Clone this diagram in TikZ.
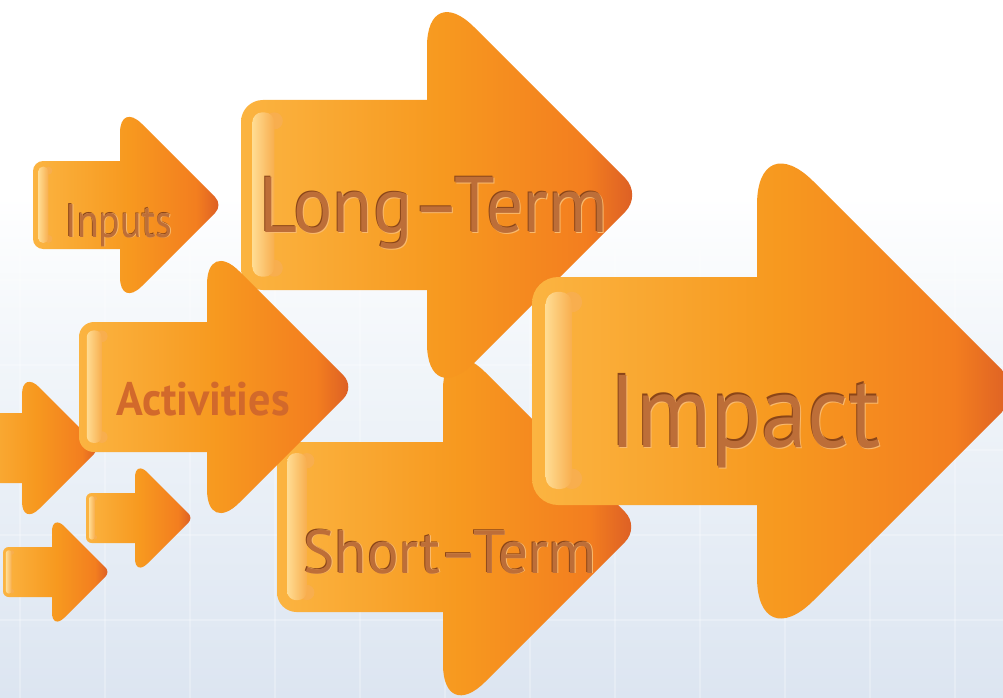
\documentclass[tikz,border=0pt]{standalone}
\usepackage{fontspec}
\setmainfont{PT Sans}

\definecolor{arrowlight}{HTML}{FBB441}
\definecolor{arroworange}{HTML}{F7991F}
\definecolor{arrowdeep}{HTML}{F37E1F}
\definecolor{arrowdark}{HTML}{D95A26}
\definecolor{bracketpale}{HTML}{FFDC93}
\definecolor{bracketedge}{HTML}{F8AE4E}
\definecolor{carvefill}{HTML}{BD6E38}
\definecolor{carvedark}{HTML}{8A4518}
\definecolor{carvelight}{HTML}{F9BA6E}
\definecolor{activitytext}{HTML}{D2692B}
\definecolor{bgblue}{HTML}{DCE5F1}
\definecolor{bgmid}{HTML}{F2F6FA}

\pgfdeclarehorizontalshading{arrowfill}{100bp}{color(0bp)=(arrowlight); color(25bp)=(arrowlight); color(50bp)=(arroworange); color(68bp)=(arrowdeep); color(75bp)=(arrowdark); color(100bp)=(arrowdark)}
\pgfdeclarehorizontalshading{bracketfill}{100bp}{color(0bp)=(bracketpale); color(25bp)=(bracketpale); color(75bp)=(bracketedge); color(100bp)=(bracketedge)}
\pgfdeclareverticalshading{bgshade}{100bp}{color(0bp)=(bgblue); color(25bp)=(bgblue); color(50bp)=(bgmid); color(61bp)=(white); color(100bp)=(white)}

% arrow: left, mid y, body half height, head base x, head half height
\newcommand\orangearrow[5]{%
  \pgfmathsetmacro\rb{0.23*#3}%
  \pgfmathsetmacro\rh{0.7*#3}%
  \pgfmathsetmacro\rt{0.25*#3}%
  \shade[arrow body] (#1,#2) [rounded corners=\rb pt] -- (#1,#2-#3) [sharp corners] -- (#4,#2-#3)
    [rounded corners=\rh pt] -- (#4,#2-#5) [rounded corners=\rt pt] -- (#4+#5,#2)
    [rounded corners=\rh pt] -- (#4,#2+#5) [sharp corners] -- (#4,#2+#3)
    [rounded corners=\rb pt] -- (#1,#2+#3) -- cycle;
}
% pale bracket at the left end of the body
\newcommand\arrowgloss[3]{%
  \pgfmathsetmacro\glx{#1+0.12*#3}%
  \pgfmathsetmacro\glw{0.23*#3}%
  \pgfmathsetmacro\gly{#2-0.87*#3}%
  \pgfmathsetmacro\glb{#2+0.86*#3}%
  \pgfmathsetmacro\glr{0.09*#3}%
  \pgfmathsetmacro\glq{0.45*\glw}%
  \fill[bracketedge] (\glx+\glw,\gly+\glr) circle (\glr) (\glx+\glw,\glb-\glr) circle (\glr);
  \shade[gloss, rounded corners=\glq pt] (\glx,\gly) rectangle (\glx+\glw,\glb);
}
\newcommand\carved[2]{%
  \makebox[0pt][l]{\kern-#1\raisebox{#1}{\color{carvedark}#2}}%
  \makebox[0pt][l]{\kern#1\raisebox{-#1}{\color{carvelight}#2}}%
  {\color{carvefill}#2}}

\begin{document}
\begin{tikzpicture}[x=1pt,y=-1pt,
  arrow body/.style={shading=arrowfill},
  gloss/.style={shading=bracketfill},
  carved label/.style={anchor=base,inner sep=0pt},
  flat label/.style={anchor=base,inner sep=0pt,text=activitytext},
  gridline/.style={white,opacity=.25,line width=2pt}]

\useasboundingbox (0,0) rectangle (1003,698);
\clip (0,0) rectangle (1003,698);
\shade[shading=bgshade] (0,0) rectangle (1003,698);
\foreach \gx in {20,105,...,1003} \draw[gridline] (\gx,250) -- (\gx,698);
\foreach \gy in {280,365,...,698} \draw[gridline] (0,\gy) -- (1003,\gy);

% back to front
\orangearrow{277}{527}{85}{443}{197}
\arrowgloss{277}{527}{85}
\node[carved label, xscale=0.97, font=\fontsize{61}{64}\selectfont] (shortterm) at (450,573) {\carved{0.9pt}{Short--Term}};

\orangearrow{241}{195}{95}{427}{215}
\arrowgloss{241}{195}{95}
\node[carved label, xscale=0.93, font=\fontsize{79}{82}\selectfont] (longterm) at (434,232) {\carved{1pt}{Long--Term}};

\orangearrow{-30}{448}{35}{22}{78}

\orangearrow{79}{387}{65}{207}{148}
\arrowgloss{79}{387}{65}
\node[flat label, xscale=0.94, font=\bfseries\fontsize{47}{50}\selectfont] (activities) at (203,415) {Activities};

\orangearrow{33}{205}{44}{120}{103}
\arrowgloss{33}{205}{44}
\node[carved label, xscale=0.85, font=\fontsize{47}{50}\selectfont] (inputs) at (119,237) {\carved{0.6pt}{Inputs}};

\orangearrow{86}{518}{25}{135}{58}
\arrowgloss{86}{518}{25}
\orangearrow{3}{572}{25}{52}{58}
\arrowgloss{3}{572}{25}

\orangearrow{532}{391}{114}{757}{266}
\arrowgloss{532}{391}{114}
\node[carved label, xscale=0.9, font=\fontsize{103}{106}\selectfont] (impact) at (745,447) {\carved{1.3pt}{Impact}};
\end{tikzpicture}
\end{document}
